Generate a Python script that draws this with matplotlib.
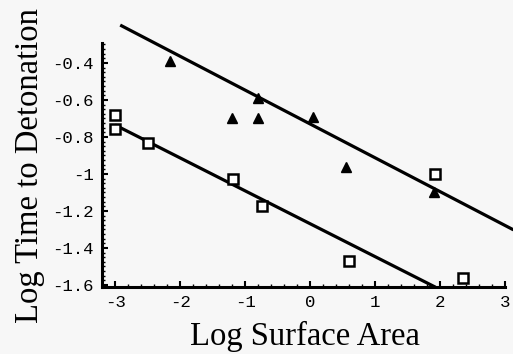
#!/usr/bin/env python3
import matplotlib
matplotlib.use('Agg')
import matplotlib.pyplot as plt
import numpy as np
from matplotlib.ticker import MultipleLocator, FixedLocator

# data (log surface area, log time to detonation)
tri_x = [-2.15, -1.2, -0.8, -0.8, 0.05, 0.55, 1.9]
tri_y = [-0.39, -0.70, -0.59, -0.70, -0.69, -0.96, -1.10]

sq_x = [-3.0, -3.0, -2.5, -1.18, -0.74, 0.6, 1.92, 2.35]
sq_y = [-0.68, -0.755, -0.83, -1.025, -1.175, -1.47, -1.00, -1.56]

# fitted lines (end points)
fit_tri_x = [-2.92, 3.13]
fit_tri_y = [-0.195, -1.302]
fit_sq_x = [-3.0, 1.93]
fit_sq_y = [-0.735, -1.612]

xticks = [-3, -2, -1, 0, 1, 2, 3]
yticks = [-0.4, -0.6, -0.8, -1.0, -1.2, -1.4, -1.6]
ytick_labels = ['-0.4', '-0.6', '-0.8', '-1', '-1.2', '-1.4', '-1.6']

bg = '#f7f7f7'
fig = plt.figure(figsize=(5.13, 3.54), dpi=100, facecolor=bg)
ax = fig.add_axes([102 / 513, 1 - 287 / 354, 411 / 513, 267 / 354])
ax.set_facecolor(bg)
ax.set_xlim(-3.2, 3.123)
ax.set_ylim(-1.611, -0.1676)

ax.plot(fit_tri_x, fit_tri_y, color='black', lw=2.3, solid_capstyle='butt')
ax.plot(fit_sq_x, fit_sq_y, color='black', lw=2.3, solid_capstyle='butt')
ax.plot(tri_x, tri_y, '^', color='black', markersize=7.5, ls='none')
ax.plot(sq_x, sq_y, 's', mfc='white', mec='black', mew=1.8, markersize=7, ls='none')

for s in ['top', 'right']:
    ax.spines[s].set_visible(False)
ax.spines['left'].set_linewidth(2.2)
ax.spines['bottom'].set_linewidth(2.2)
ax.spines['left'].set_bounds(-1.611, -0.29)
ax.spines['bottom'].set_bounds(-3.2, 3.0)

ax.set_xticks(xticks)
ax.set_xticklabels([str(v) for v in xticks])
ax.set_yticks(yticks)
ax.set_yticklabels(ytick_labels)
ax.xaxis.set_minor_locator(FixedLocator(np.arange(-3.2, 3.01, 0.2)))
ax.yaxis.set_minor_locator(FixedLocator(np.arange(-1.6, -0.29, 0.025)))
ax.tick_params(which='major', direction='in', length=4, width=1.5, pad=6)
ax.tick_params(which='minor', direction='in', length=2, width=1)
for lab in ax.get_xticklabels() + ax.get_yticklabels():
    lab.set_family('Liberation Mono')
    lab.set_fontsize(12.5)

fig.text(30 / 513, 1 - 166 / 354, 'Log Time to Detonation', rotation=90,
         ha='center', va='center', family='Liberation Serif', fontsize=23.5)
fig.text(305 / 513, 1 - 336 / 354, 'Log Surface Area',
         ha='center', va='center', family='Liberation Serif', fontsize=23.5)

plt.savefig('out.png', dpi=100, facecolor=bg)
